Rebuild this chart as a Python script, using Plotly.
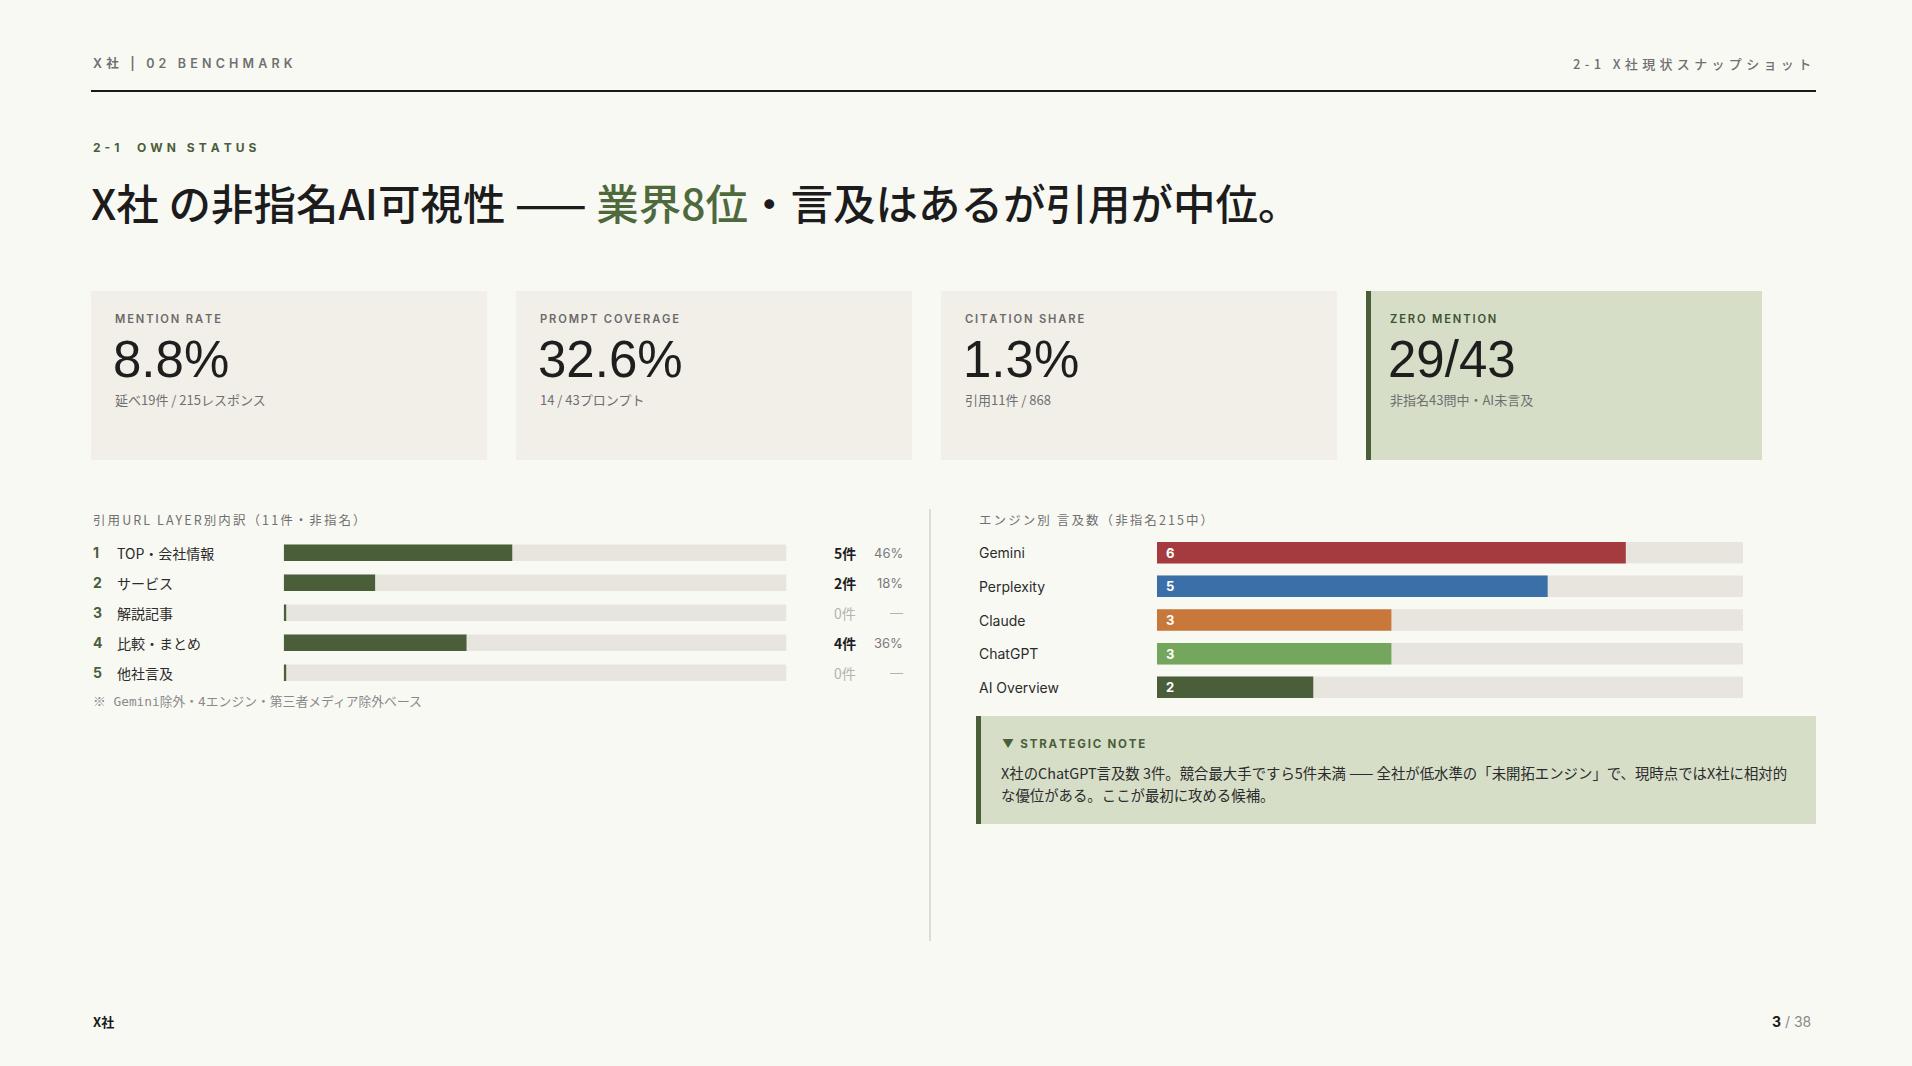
import plotly.graph_objects as go

W, H = 1912, 1066
BG = "#f9f9f4"
CARD_BG = "#f2efe9"
SAGE = "#d6dec8"
GREEN = "#4a5e3a"
TRACK = "#e8e5de"
DARK = "#1e1e1e"
TEXT = "#2b2b2b"
GRAY = "#707070"
LIGHT = "#b3b3b0"

SANS = "Inter, 'Noto Sans CJK JP', sans-serif"
HELV = "'Liberation Sans', Arial, sans-serif"
JP = "'Noto Sans CJK JP', Inter, sans-serif"
MONO = "'DejaVu Sans Mono', 'Noto Sans CJK JP', monospace"

# ---------------- data ----------------
header_left = "X社 | 02 BENCHMARK"
header_right = "2-1 X社現状スナップショット"
section_label = "2-1  OWN STATUS"

kpi_labels = ["MENTION RATE", "PROMPT COVERAGE", "CITATION SHARE", "ZERO MENTION"]
kpi_values = ["8.8%", "32.6%", "1.3%", "29/43"]
kpi_notes = ["延べ19件 / 215レスポンス", "14 / 43プロンプト", "引用11件 / 868", "非指名43問中・AI未言及"]

layer_title = "引用URL LAYER別内訳（11件・非指名）"
layer_ranks = ["1", "2", "3", "4", "5"]
layer_names = ["TOP・会社情報", "サービス", "解説記事", "比較・まとめ", "他社言及"]
layer_counts = [5, 2, 0, 4, 0]
layer_pcts = ["46%", "18%", "—", "36%", "—"]
layer_total = 11
layer_note = "※ Gemini除外・4エンジン・第三者メディア除外ベース"

engine_title = "エンジン別 言及数（非指名215中）"
engine_names = ["Gemini", "Perplexity", "Claude", "ChatGPT", "AI Overview"]
engine_counts = [6, 5, 3, 3, 2]
engine_colors = ["#a53b3e", "#3b6fa8", "#c8783b", "#74a75d", "#4a5e3a"]
engine_axis_max = 7.5

note_title = "▼ STRATEGIC NOTE"
note_lines = ["X社のChatGPT言及数 3件。競合最大手ですら5件未満 —— 全社が低水準の「未開拓エンジン」で、現時点ではX社に相対的",
              "な優位がある。ここが最初に攻める候補。"]

footer_left = "X社"
page_no = "3"
page_total = "38"


def px(x):
    return x / W


def py(y):
    return 1 - y / H


def spaced(s, sp="\u2004"):
    return sp.join(list(s))


fig = go.Figure()

# ---------------- left bar chart (citation layers) ----------------
fig.add_trace(go.Bar(
    y=layer_names, x=[layer_total] * len(layer_names), orientation="h",
    marker=dict(color=TRACK, line=dict(width=0)), width=0.55,
    xaxis="x", yaxis="y", hoverinfo="skip", showlegend=False))
fig.add_trace(go.Bar(
    y=layer_names, x=layer_counts, orientation="h",
    marker=dict(color=GREEN, line=dict(width=0)), width=0.55,
    xaxis="x", yaxis="y", showlegend=False))

# ---------------- right bar chart (engines) ----------------
fig.add_trace(go.Bar(
    y=engine_names, x=[engine_axis_max] * len(engine_names), orientation="h",
    marker=dict(color=TRACK, line=dict(width=0)), width=0.64,
    xaxis="x2", yaxis="y2", hoverinfo="skip", showlegend=False))
fig.add_trace(go.Bar(
    y=engine_names, x=engine_counts, orientation="h",
    marker=dict(color=engine_colors, line=dict(width=0)), width=0.64,
    xaxis="x2", yaxis="y2", showlegend=False))

shapes = []
ann = []

# header
ann.append(dict(x=px(91), y=py(63), xanchor="left", yanchor="middle",
                text=spaced(header_left), font=dict(family=SANS, size=12.5, color=GRAY, weight=600)))
ann.append(dict(x=px(1813), y=py(63), xanchor="right", yanchor="middle",
                text=spaced(header_right), font=dict(family=JP, size=13, color=GRAY, weight=500)))
shapes.append(dict(type="line", xref="paper", yref="paper", x0=px(91), x1=px(1816), y0=py(91), y1=py(91),
                   line=dict(color="#1a1a1a", width=2)))

# section label & title
ann.append(dict(x=px(91), y=py(147), xanchor="left", yanchor="middle",
                text=spaced(section_label), font=dict(family=SANS, size=12, color=GREEN, weight=700)))
ann.append(dict(x=px(89), y=py(201), xanchor="left", yanchor="middle",
                text="X社 の非指名AI可視性 —— <span style='color:#4e6a3d'>業界8位</span>・言及はあるが引用が中位。",
                font=dict(family=JP, size=42.5, color="#1c1c1c", weight=500)))

# KPI cards
card_lefts = [91, 516, 941, 1366]
card_w = 396
for i, left in enumerate(card_lefts):
    zero = (i == 3)
    shapes.append(dict(type="rect", xref="paper", yref="paper", layer="below",
                       x0=px(left), x1=px(left + card_w), y0=py(460), y1=py(291),
                       fillcolor=SAGE if zero else CARD_BG, line=dict(width=0)))
    if zero:
        shapes.append(dict(type="rect", xref="paper", yref="paper", layer="below",
                           x0=px(left), x1=px(left + 5), y0=py(460), y1=py(291),
                           fillcolor=GREEN, line=dict(width=0)))
    tx = left + 22
    ann.append(dict(x=px(tx), y=py(319), xanchor="left", yanchor="middle",
                    text=spaced(kpi_labels[i], "\u2009"),
                    font=dict(family=SANS, size=11.2, color="#3d5230" if zero else "#6a6a6a", weight=600)))
    ann.append(dict(x=px(tx - 2), y=py(359), xanchor="left", yanchor="middle",
                    text=kpi_values[i], font=dict(family=HELV, size=51, color=DARK, weight=400)))
    ann.append(dict(x=px(tx), y=py(400), xanchor="left", yanchor="middle",
                    text=kpi_notes[i], font=dict(family=JP, size=13, color="#6f6f6f")))

# left chart text
ann.append(dict(x=px(91), y=py(519), xanchor="left", yanchor="middle",
                text=spaced(layer_title, "\u2006"), font=dict(family=JP, size=12.5, color=GRAY)))
for i, name in enumerate(layer_names):
    zero = layer_counts[i] == 0
    ann.append(dict(xref="paper", yref="y", x=px(91), y=name, xanchor="left", yanchor="middle",
                    text="<b>" + layer_ranks[i] + "</b>", font=dict(family=SANS, size=14, color=GREEN)))
    ann.append(dict(xref="paper", yref="y", x=px(115), y=name, xanchor="left", yanchor="middle",
                    text=name, font=dict(family=JP, size=14, color=TEXT)))
    cnt = str(layer_counts[i]) + "件"
    ann.append(dict(xref="paper", yref="y", x=px(858), y=name, xanchor="right", yanchor="middle",
                    text=cnt if zero else "<b>" + cnt + "</b>",
                    font=dict(family=JP, size=14, color=LIGHT if zero else DARK)))
    ann.append(dict(xref="paper", yref="y", x=px(905), y=name, xanchor="right", yanchor="middle",
                    text=layer_pcts[i], font=dict(family=SANS, size=13, color=LIGHT if zero else "#7a7a7a")))
    if zero:
        shapes.append(dict(type="rect", xref="x", yref="y", xsizemode="pixel", xanchor=0,
                           x0=0, x1=2.5, y0=i - 0.275, y1=i + 0.275,
                           fillcolor=GREEN, line=dict(width=0), layer="above"))
ann.append(dict(x=px(91), y=py(701), xanchor="left", yanchor="middle",
                text=layer_note, font=dict(family=MONO, size=12.8, color="#8a8a8a")))

# divider
shapes.append(dict(type="line", xref="paper", yref="paper", x0=px(930), x1=px(930), y0=py(509), y1=py(941),
                   line=dict(color="#cfcfc8", width=1.3)))

# right chart text
ann.append(dict(x=px(977), y=py(519), xanchor="left", yanchor="middle",
                text=spaced(engine_title, "\u2006"), font=dict(family=JP, size=12.5, color=GRAY)))
for i, name in enumerate(engine_names):
    ann.append(dict(xref="paper", yref="y2", x=px(977), y=name, xanchor="left", yanchor="middle",
                    text=name, font=dict(family=SANS, size=14, color=TEXT)))
    ann.append(dict(xref="x2", yref="y2", x=0, xshift=7, y=name, xanchor="left", yanchor="middle",
                    text="<b>" + str(engine_counts[i]) + "</b>", font=dict(family=SANS, size=13, color="#ffffff")))

# strategic note box
shapes.append(dict(type="rect", xref="paper", yref="paper", layer="below",
                   x0=px(976), x1=px(1816), y0=py(824), y1=py(716), fillcolor=SAGE, line=dict(width=0)))
shapes.append(dict(type="rect", xref="paper", yref="paper", layer="below",
                   x0=px(976), x1=px(981), y0=py(824), y1=py(716), fillcolor=GREEN, line=dict(width=0)))
ann.append(dict(x=px(1000), y=py(743.5), xanchor="left", yanchor="middle",
                text=spaced(note_title, "\u2009"), font=dict(family=SANS, size=11.5, color=GREEN, weight=700)))
for j, line in enumerate(note_lines):
    ann.append(dict(x=px(999), y=py(772 + 22 * j), xanchor="left", yanchor="middle", align="left",
                    text=line, font=dict(family=JP, size=14.4, color=TEXT)))

# footer
ann.append(dict(x=px(91), y=py(1022), xanchor="left", yanchor="middle",
                text="<b>" + footer_left + "</b>", font=dict(family=JP, size=13, color="#1a1a1a")))
ann.append(dict(x=px(1813), y=py(1022), xanchor="right", yanchor="middle",
                text="<b>" + page_no + "</b> <span style='color:#8a8a8a'>/ " + page_total + "</span>",
                font=dict(family=SANS, size=14, color="#1a1a1a")))

for a in ann:
    a.setdefault("xref", "paper")
    a.setdefault("yref", "paper")
    a["showarrow"] = False

axis_common = dict(visible=False, showgrid=False, zeroline=False, fixedrange=True)
fig.update_layout(
    width=W, height=H,
    margin=dict(l=0, r=0, t=0, b=0),
    paper_bgcolor=BG, plot_bgcolor="rgba(0,0,0,0)",
    barmode="overlay",
    barcornerradius=1,
    showlegend=False,
    xaxis=dict(domain=[px(283.7), px(786.5)], range=[0, layer_total], anchor="y", **axis_common),
    yaxis=dict(domain=[py(687.7), py(537.7)], range=[4.5, -0.5], type="category",
               categoryorder="array", categoryarray=layer_names, anchor="x", **axis_common),
    xaxis2=dict(domain=[px(1157), px(1743)], range=[0, engine_axis_max], anchor="y2", **axis_common),
    yaxis2=dict(domain=[py(704.15), py(535.85)], range=[4.5, -0.5], type="category",
                categoryorder="array", categoryarray=engine_names, anchor="x2", **axis_common),
    shapes=shapes,
    annotations=ann,
    hovermode=False,
)

fig.write_html("out.html", config={"displayModeBar": False},
               post_script="document.body.style.margin='0';document.body.style.background='" + BG + "';")
